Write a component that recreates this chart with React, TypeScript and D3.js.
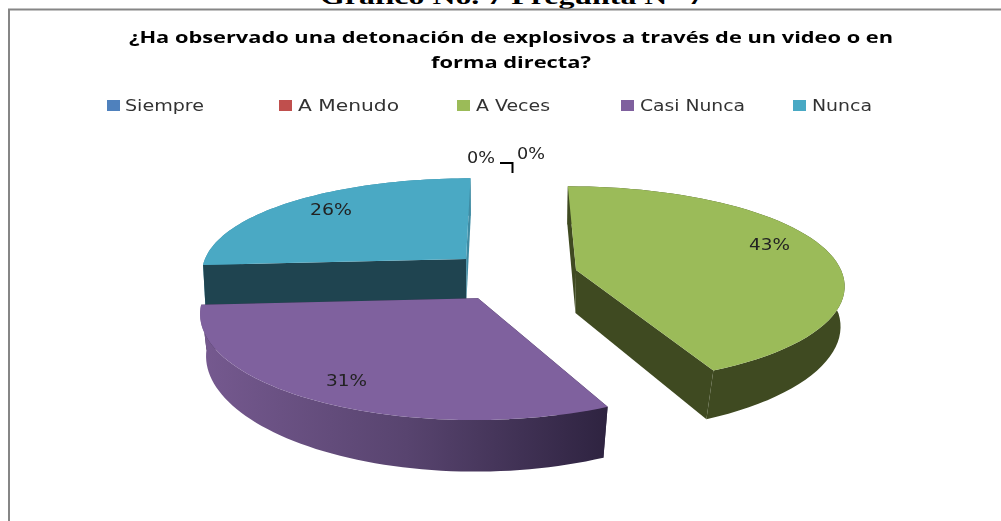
import React from "react";
import * as d3 from "d3";

const categories = ["Siempre", "A Menudo", "A Veces", "Casi Nunca", "Nunca"];
const values = [0, 0, 43, 31, 26];
const percentLabels = ["0%", "0%", "43%", "31%", "26%"];
const colors = ["#4f81bd", "#c0504d", "#9bbb59", "#7f619e", "#4aa9c4"];
const cutStartColors = ["#2a4a70", "#70302e", "#3f4a21", "#3a2c4a", "#1f4450"];
const cutEndColors = ["#2a4a70", "#70302e", "#3f4a21", "#3a2c4a", "#3f8ba3"];

const titleLines = [
  "¿Ha observado una detonación de explosivos a través de un video o en",
  "forma directa?",
];
const heading = "Gráfico No. 7 Pregunta N° 7";

// layout
const W = 1001, H = 521;
const VX = 505, VY = 270, RX = 265, RY = 98, PERSP = 0.13, DEPTH = 43;
const explode: Record<number, [number, number]> = {
  2: [0.268, 0],
  3: [-0.098, 0.277],
  4: [-0.149, -0.115],
};
const legendLayout = [
  { box: 107, tx: 125, tw: 79 },
  { box: 279, tx: 298, tw: 101 },
  { box: 457, tx: 476, tw: 74 },
  { box: 621, tx: 640, tw: 105 },
  { box: 793, tx: 812, tw: 60 },
];
const labelLayout = [
  { x: 467, y: 163, w: 28 },
  { x: 517, y: 159, w: 28 },
  { x: 749, y: 250, w: 41 },
  { x: 326, y: 386, w: 41 },
  { x: 310, y: 215, w: 42 },
];
const FONT = "'DejaVu Sans', sans-serif";

type Pt = [number, number];
function project(a: number, b: number, low: boolean): Pt {
  const f = 1 / (1 - PERSP * b);
  const x = RX * a * f;
  const y = RY * b * f * (1 + 0.035 * Math.min(b, 0));
  const shrink = low ? 1 - 0.008 - 0.028 * Math.max(b, 0) : 1;
  return [VX + x * shrink, VY + y + (low ? DEPTH * f : 0)];
}

const pieGen = d3.pie<number>().sort(null).value((d) => d).startAngle(0).endAngle(2 * Math.PI);
const arcs = pieGen(values);
const line = d3.line<Pt>();

function slicePaths(i: number) {
  const arc = arcs[i];
  const [A, B] = explode[i];
  const angles = d3.range(0, 61).map((k) => arc.startAngle + ((arc.endAngle - arc.startAngle) * k) / 60);
  const rim = (low: boolean) => angles.map((t) => project(A + Math.sin(t), B - Math.cos(t), low));
  const topRim = rim(false);
  const lowRim = rim(true);
  const apexT = project(A, B, false);
  const apexL = project(A, B, true);
  const top = line([apexT, ...topRim])! + "Z";
  const wall = line([...topRim, ...[...lowRim].reverse()])! + "Z";
  const cutA = line([apexT, topRim[0], lowRim[0], apexL])! + "Z";
  const cutB = line([apexT, topRim[60], lowRim[60], apexL])! + "Z";
  return { top, wall, cutA, cutB };
}

const drawOrder = [4, 2, 3];

export default function App() {
  return (
    <svg
      width={W}
      height={H}
      viewBox={`0 0 ${W} ${H}`}
      style={{ position: "absolute", left: 0, top: 0, display: "block", background: "#fff" }}
    >
      <defs>
        <linearGradient id="purpleWall" gradientUnits="userSpaceOnUse" x1={205} x2={608} y1={0} y2={0}>
          <stop offset="0" stopColor="#75598f" />
          <stop offset="0.5" stopColor="#58446f" />
          <stop offset="1" stopColor="#2e2340" />
        </linearGradient>
        <filter id="soft" x="-5%" y="-20%" width="110%" height="140%">
          <feGaussianBlur stdDeviation="0.45" />
        </filter>
      </defs>
      <text
        x={320}
        y={4}
        textLength={384}
        lengthAdjust="spacingAndGlyphs"
        fontFamily="'Liberation Serif', serif"
        fontWeight="bold"
        fontSize={23}
        fill="#000"
      >
        {heading}
      </text>
      <path d={`M9 521V9.5H1001`} fill="none" stroke="#868686" strokeWidth={2} />

      <g filter="url(#soft)">
        <text x={129} y={43} textLength={764} lengthAdjust="spacingAndGlyphs" fontFamily="'Open Sans', sans-serif" fontWeight="bold" fontSize={16.5} fill="#000">
          {titleLines[0]}
        </text>
        <text x={431} y={68} textLength={160} lengthAdjust="spacingAndGlyphs" fontFamily="'Open Sans', sans-serif" fontWeight="bold" fontSize={16.5} fill="#000">
          {titleLines[1]}
        </text>
        {categories.map((c, i) => (
          <g key={c}>
            <rect x={legendLayout[i].box} y={100} width={13} height={11} fill={colors[i]} />
            <text x={legendLayout[i].tx} y={111} textLength={legendLayout[i].tw} lengthAdjust="spacingAndGlyphs" fontFamily={FONT} fontSize={16} fill="#333">
              {c}
            </text>
          </g>
        ))}
      </g>

      {drawOrder.map((i) => {
        const p = slicePaths(i);
        const cuts = (
          <>
            <path d={p.cutA} fill={cutStartColors[i]} />
            <path d={p.cutB} fill={cutEndColors[i]} />
          </>
        );
        const wallFill = i === 3 ? "url(#purpleWall)" : i === 2 ? cutStartColors[2] : cutEndColors[4];
        return (
          <g key={i}>
            {i === 3 ? cuts : null}
            <path d={p.wall} fill={wallFill} />
            {i !== 3 ? cuts : null}
            <path d={p.top} fill={colors[i]} />
          </g>
        );
      })}

      <path d="M500 163H512.5V173" fill="none" stroke="#000" strokeWidth={2} />
      <g filter="url(#soft)">
        {percentLabels.map((t, i) => (
          <text key={i} x={labelLayout[i].x} y={labelLayout[i].y} textLength={labelLayout[i].w} lengthAdjust="spacingAndGlyphs" fontFamily={FONT} fontSize={16.5} fill="#222">
            {t}
          </text>
        ))}
      </g>
    </svg>
  );
}
